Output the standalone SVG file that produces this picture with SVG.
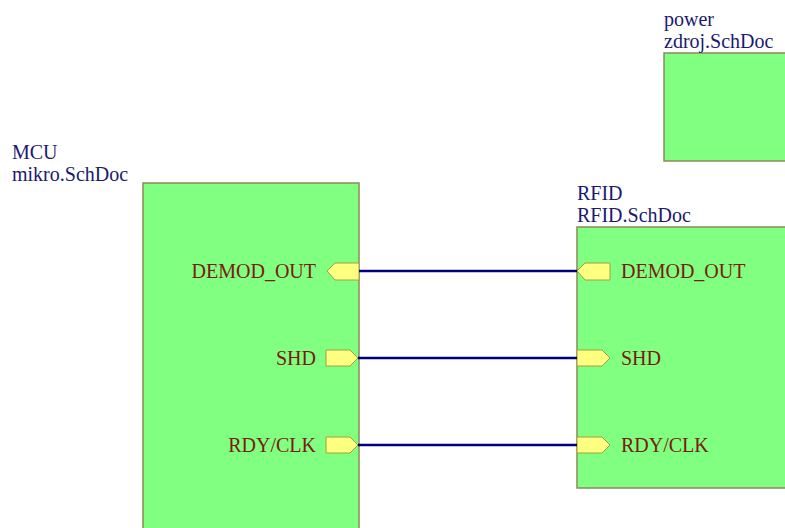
<svg xmlns="http://www.w3.org/2000/svg" width="785" height="528" viewBox="0 0 785 528">
<style>
.sheet{fill:#80ff80;stroke:#8a8a5a;stroke-width:1.5}
.port{fill:#ffff80;stroke:#a0a040;stroke-width:1}
.wire{stroke:#000080;stroke-width:2.5;fill:none}
.lbl{font-family:"Liberation Serif",serif;font-size:20px;fill:#1a1a6e}
.pin{font-family:"Liberation Serif",serif;font-size:20px;fill:#7a1a10}
</style>
<rect width="785" height="528" fill="#ffffff"/>
<g id="power">
<rect class="sheet" x="664" y="53" width="125" height="108"/>
<text class="lbl" x="664" y="26">power</text>
<text class="lbl" x="664" y="48">zdroj.SchDoc</text>
</g>
<g id="MCU">
<rect class="sheet" x="143" y="183" width="216" height="350"/>
<text class="lbl" x="12" y="159">MCU</text>
<text class="lbl" x="12" y="181">mikro.SchDoc</text>
<polygon class="port" points="327,271 335,263 359,263 359,280 335,280"/>
<text class="pin" x="316" y="278" text-anchor="end">DEMOD_OUT</text>
<polygon class="port" points="326,350 350,350 358,358 350,366 326,366"/>
<text class="pin" x="316" y="365" text-anchor="end">SHD</text>
<polygon class="port" points="326,437 350,437 358,445 350,453 326,453"/>
<text class="pin" x="316" y="452" text-anchor="end">RDY/CLK</text>
</g>
<g id="RFID">
<rect class="sheet" x="577" y="227" width="212" height="261"/>
<text class="lbl" x="577" y="200">RFID</text>
<text class="lbl" x="577" y="222">RFID.SchDoc</text>
<polygon class="port" points="577,271 585,263 610,263 610,280 585,280"/>
<text class="pin" x="621" y="278">DEMOD_OUT</text>
<polygon class="port" points="577,350 602,350 610,358 602,366 577,366"/>
<text class="pin" x="621" y="365">SHD</text>
<polygon class="port" points="577,437 602,437 610,445 602,453 577,453"/>
<text class="pin" x="621" y="452">RDY/CLK</text>
</g>
<g id="connectors">
<line class="wire" x1="359" y1="271" x2="577" y2="271"/>
<line class="wire" x1="358" y1="358" x2="577" y2="358"/>
<line class="wire" x1="358" y1="445" x2="577" y2="445"/>
</g>
</svg>
